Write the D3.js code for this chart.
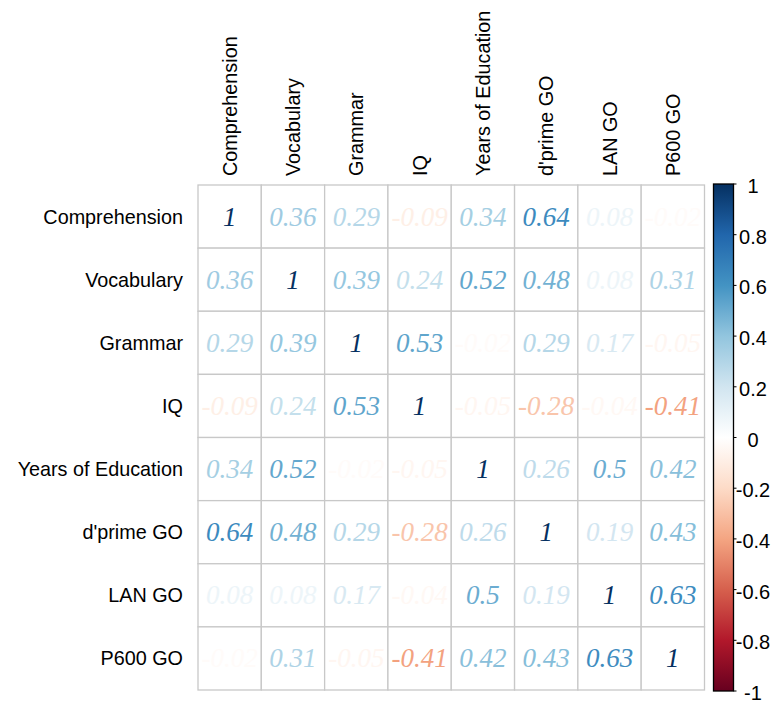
<!DOCTYPE html>
<html>
<head>
<meta charset="utf-8">
<script src="https://cdn.jsdelivr.net/npm/d3@7"></script>
<style>
  html, body { margin: 0; padding: 0; background: #ffffff; }
  svg { display: block; }
</style>
</head>
<body>
<svg id="chart" width="777" height="706"></svg>
<script>
// Variables in row/column order
const variables = ["Comprehension", "Vocabulary", "Grammar", "IQ", "Years of Education", "d'prime GO", "LAN GO", "P600 GO"];

// Correlation matrix, one row per variable
const rowComprehension = [1, 0.36, 0.29, -0.09, 0.34, 0.64, 0.08, -0.02];
const rowVocabulary    = [0.36, 1, 0.39, 0.24, 0.52, 0.48, 0.08, 0.31];
const rowGrammar       = [0.29, 0.39, 1, 0.53, -0.02, 0.29, 0.17, -0.05];
const rowIQ            = [-0.09, 0.24, 0.53, 1, -0.05, -0.28, -0.04, -0.41];
const rowYears         = [0.34, 0.52, -0.02, -0.05, 1, 0.26, 0.5, 0.42];
const rowDprime        = [0.64, 0.48, 0.29, -0.28, 0.26, 1, 0.19, 0.43];
const rowLAN           = [0.08, 0.08, 0.17, -0.04, 0.5, 0.19, 1, 0.63];
const rowP600          = [-0.02, 0.31, -0.05, -0.41, 0.42, 0.43, 0.63, 1];
const corrRows = [rowComprehension, rowVocabulary, rowGrammar, rowIQ, rowYears, rowDprime, rowLAN, rowP600];

// Colour legend ticks
const legendTicks = [1, 0.8, 0.6, 0.4, 0.2, 0, -0.2, -0.4, -0.6, -0.8, -1];

// Diverging red-blue palette, from -1 to 1
const palette = ["#67001F", "#B2182B", "#D6604D", "#F4A582", "#FDDBC7", "#FFFFFF",
                 "#D1E5F0", "#92C5DE", "#4393C3", "#2166AC", "#053061"];

const svg = d3.select("#chart");

const color = d3.scaleLinear()
  .domain(d3.range(palette.length).map(i => -1 + 2 * i / (palette.length - 1)))
  .range(palette)
  .interpolate(d3.interpolateRgb);

const grid = { left: 198, right: 704.5, top: 185, bottom: 690 };

const x = d3.scaleBand().domain(variables).range([grid.left, grid.right]);
const y = d3.scaleBand().domain(variables).range([grid.top, grid.bottom]);

const cells = [];
corrRows.forEach((row, i) => {
  row.forEach((v, j) => cells.push({ r: variables[i], c: variables[j], v }));
});

// Cell grid
svg.append("g")
  .selectAll("rect")
  .data(cells)
  .join("rect")
  .attr("x", d => x(d.c))
  .attr("y", d => y(d.r))
  .attr("width", x.bandwidth())
  .attr("height", y.bandwidth())
  .attr("fill", "#ffffff")
  .attr("stroke", "#c8c8c8")
  .attr("stroke-width", 1.3);

// Coefficients as coloured numbers
svg.append("g")
  .selectAll("text")
  .data(cells)
  .join("text")
  .attr("x", d => x(d.c) + x.bandwidth() / 2)
  .attr("y", d => y(d.r) + y.bandwidth() / 2)
  .attr("text-anchor", "middle")
  .attr("dominant-baseline", "central")
  .attr("font-family", "'Liberation Serif', 'DejaVu Serif', serif")
  .attr("font-style", "italic")
  .attr("font-size", 27)
  .attr("fill", d => color(d.v))
  .text(d => String(d.v));

// Row labels
svg.append("g")
  .selectAll("text")
  .data(variables)
  .join("text")
  .attr("x", grid.left - 15)
  .attr("y", d => y(d) + y.bandwidth() / 2)
  .attr("text-anchor", "end")
  .attr("dominant-baseline", "central")
  .attr("font-family", "'Liberation Sans', Arial, sans-serif")
  .attr("font-size", 19.8)
  .attr("fill", "#000000")
  .text(d => d);

// Column labels, vertical
svg.append("g")
  .selectAll("text")
  .data(variables)
  .join("text")
  .attr("transform", d => `translate(${x(d) + x.bandwidth() / 2},${grid.top - 9}) rotate(-90)`)
  .attr("text-anchor", "start")
  .attr("dominant-baseline", "central")
  .attr("font-family", "'Liberation Sans', Arial, sans-serif")
  .attr("font-size", 19.8)
  .attr("fill", "#000000")
  .text(d => d);

// Colour legend
const bar = { left: 713.5, right: 733.5, top: 184, bottom: 691 };
const legendScale = d3.scaleLinear().domain([-1, 1]).range([bar.bottom, bar.top]);

const defs = svg.append("defs");
const grad = defs.append("linearGradient")
  .attr("id", "corr-grad")
  .attr("x1", 0).attr("y1", 1).attr("x2", 0).attr("y2", 0);
grad.selectAll("stop")
  .data(palette)
  .join("stop")
  .attr("offset", (d, i) => i / (palette.length - 1))
  .attr("stop-color", d => d);

svg.append("rect")
  .attr("x", bar.left)
  .attr("y", bar.top)
  .attr("width", bar.right - bar.left)
  .attr("height", bar.bottom - bar.top)
  .attr("fill", "url(#corr-grad)")
  .attr("stroke", "#000000")
  .attr("stroke-width", 1.3);

const legend = svg.append("g");
legend.selectAll("line")
  .data(legendTicks)
  .join("line")
  .attr("x1", bar.right)
  .attr("x2", bar.right + 3)
  .attr("y1", d => legendScale(d))
  .attr("y2", d => legendScale(d))
  .attr("stroke", "#000000")
  .attr("stroke-width", 1);

legend.selectAll("text")
  .data(legendTicks)
  .join("text")
  .attr("x", 753)
  .attr("y", d => legendScale(d) + 2)
  .attr("text-anchor", "middle")
  .attr("dominant-baseline", "central")
  .attr("font-family", "'Liberation Sans', Arial, sans-serif")
  .attr("font-size", 20)
  .attr("fill", "#000000")
  .text(d => String(d));
</script>
</body>
</html>
